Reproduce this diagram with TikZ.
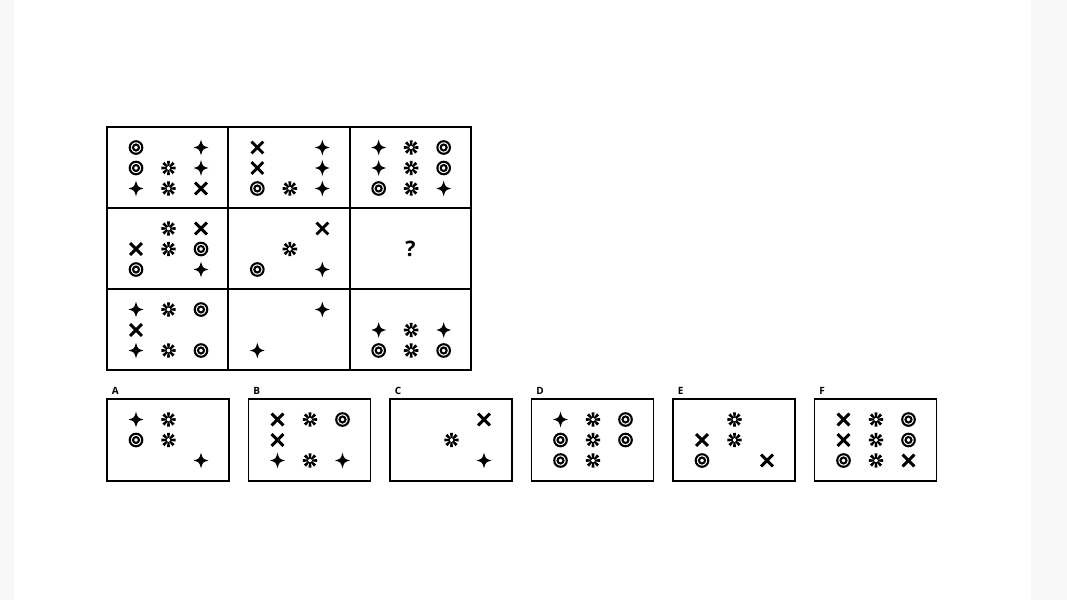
\documentclass[tikz,border=0pt]{standalone}
\usepackage{fontspec}
\setsansfont{Open Sans}
\usepackage{tikz}

\definecolor{stripgray}{RGB}{248,248,248}

% symbols, #1 = x and #2 = y of the centre (pixel units)
\newcommand{\symbo}[2]{\draw[symline] (#1,#2) circle (6.3) (#1,#2) circle (3.0);}
\newcommand{\symbs}[2]{\fill[shift={(#1,#2)}] (0,-7.8) .. controls (1.7,-1.7) .. (7.4,0) .. controls (1.7,1.7) .. (0,7.8) .. controls (-1.7,1.7) .. (-7.4,0) .. controls (-1.7,-1.7) .. (0,-7.8) -- cycle;}
\newcommand{\symba}[2]{\foreach \a in {0,45,...,315} {\fill[shift={(#1,#2)}, rotate=\a] (1.6,-0.9) -- (7.2,-1.5) -- (7.2,1.5) -- (1.6,0.9) -- cycle;}
  \fill[white] (#1,#2) circle (1.9);}
\newcommand{\symbx}[2]{\draw[xline,shift={(#1,#2)}] (-5.9,-5.9) -- (5.9,5.9) (-5.9,5.9) -- (5.9,-5.9);}
\newcommand{\symbn}[2]{}

% 3x3 pattern, #1 = left, #2 = top, #3 = nine codes (o, s, a, x, n)
\newcommand{\cellsyms}[3]{%
  \edef\patlist{#3}%
  \foreach \c [count=\i from 0] in \patlist {
    \pgfmathtruncatemacro{\col}{mod(\i,3)}
    \pgfmathtruncatemacro{\row}{div(\i,3)}
    \pgfmathsetmacro{\px}{#1+29+32.5*\col}
    \pgfmathsetmacro{\py}{#2+20.5+20.5*\row}
    \csname symb\c\endcsname{\px}{\py}
  }}

\begin{document}
\begin{tikzpicture}[x=0.75pt, y=-0.75pt,
    symline/.style={line width=1.55pt},
    xline/.style={line width=2.2pt},
    gridline/.style={line width=1.4pt},
    boxline/.style={line width=1.3pt},
    optlabel/.style={anchor=west, inner sep=0pt, font=\sffamily\bfseries\fontsize{7.5}{8}\selectfont},
    qmark/.style={inner sep=0pt, font=\sffamily\bfseries\fontsize{16}{17}\selectfont}]

  % page and side strips
  \useasboundingbox (0,0) rectangle (1067,600);
  \fill[white] (0,0) rectangle (1067,600);
  \fill[stripgray] (0,0) rectangle (14,600);
  \fill[stripgray] (1031,0) rectangle (1067,600);

  % Draw the 3x3 matrix
  \draw[gridline] (107,127) rectangle (471,370);
  \draw[gridline] (228.33,127) -- (228.33,370);
  \draw[gridline] (349.67,127) -- (349.67,370);
  \draw[gridline] (107,208) -- (471,208);
  \draw[gridline] (107,289) -- (471,289);

  % Row 1
  \cellsyms{107}{127}{o,n,s,o,a,s,s,a,x}
  \cellsyms{228.33}{127}{x,n,s,x,n,s,o,a,s}
  \cellsyms{349.67}{127}{s,a,o,s,a,o,o,a,s}
  % Row 2
  \cellsyms{107}{208}{n,a,x,x,a,o,o,n,s}
  \cellsyms{228.33}{208}{n,n,x,n,a,n,o,n,s}
  \node[qmark] (missing) at (410.5,249) {?};
  % Row 3
  \cellsyms{107}{289}{s,a,o,x,n,n,s,a,o}
  \cellsyms{228.33}{289}{n,n,s,n,n,n,s,n,n}
  \cellsyms{349.67}{289}{n,n,n,s,a,s,o,a,o}

  % Draw the answer options
  \foreach \lab [count=\k from 0] in {A,B,C,D,E,F} {
    \pgfmathsetmacro{\bx}{107+141.5*\k}
    \draw[boxline] (\bx,399) rectangle ++(122,82);
    \node[optlabel] (lab\lab) at (\bx+4.5,391) {\lab};
  }
  \cellsyms{107}{399}{s,a,n,o,a,n,n,n,s}
  \cellsyms{248.5}{399}{x,a,o,x,n,n,s,a,s}
  \cellsyms{390}{399}{n,n,x,n,a,n,n,n,s}
  \cellsyms{531.5}{399}{s,a,o,o,a,o,o,a,n}
  \cellsyms{673}{399}{n,a,n,x,a,n,o,n,x}
  \cellsyms{814.5}{399}{x,a,o,x,a,o,o,a,x}
\end{tikzpicture}
\end{document}
